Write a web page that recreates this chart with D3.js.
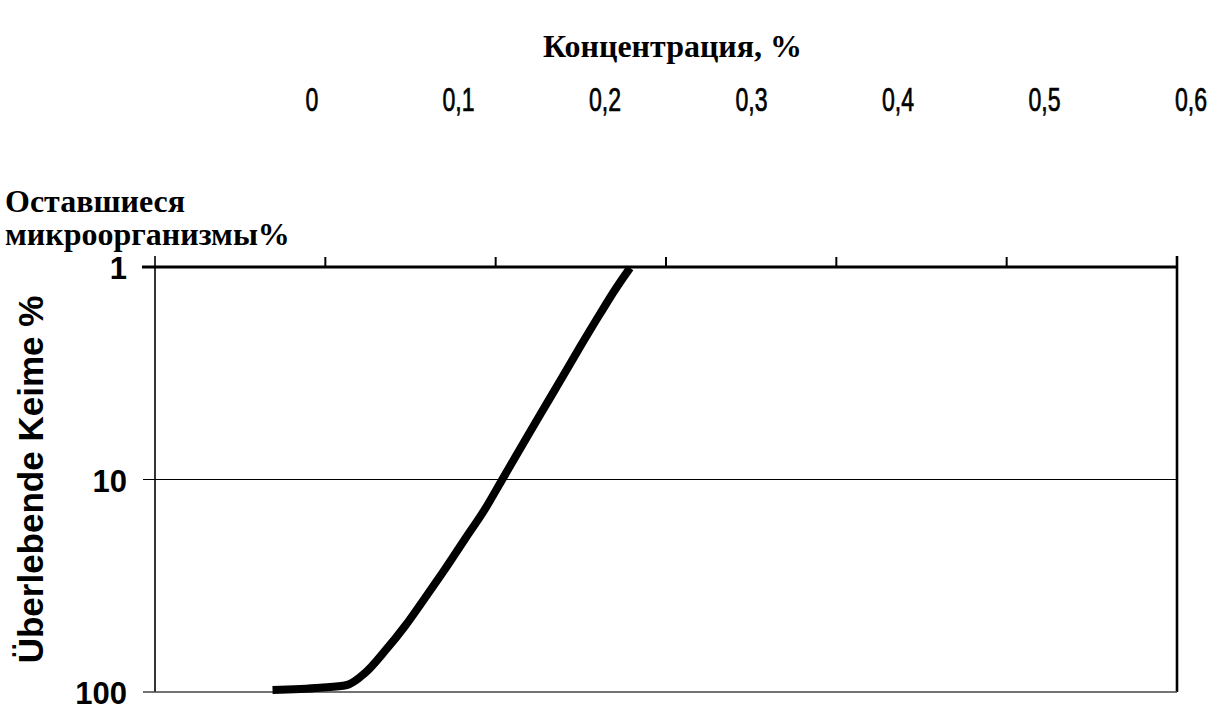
<!DOCTYPE html>
<html>
<head>
<meta charset="utf-8">
<script src="https://cdn.jsdelivr.net/npm/d3@7"></script>
<style>
	body {margin: 0; background: #fff}
	svg {display: block}
</style>
</head>
<body>
<svg width="1211" height="706"></svg>
<script>
'use strict';
// data
let aConc = [0.069, 0.097, 0.1127, 0.1233, 0.135, 0.1468, 0.1585, 0.1703, 0.182, 0.1937, 0.2037, 0.2143, 0.226, 0.2378, 0.2495, 0.2613, 0.2701, 0.2789]
let aSurv = [97.8, 95.5, 92.7, 81.4, 64.1, 48.9, 36.1, 26.4, 19.05, 13.8, 10.05, 7.19, 4.97, 3.44, 2.38, 1.66, 1.28, 1.01]
let aXTicks = [0, 0.1, 0.2, 0.3, 0.4, 0.5, 0.6]
let aXLabels = ["0", "0,1", "0,2", "0,3", "0,4", "0,5", "0,6"]
let aYTicks = [1, 10, 100]

let eSvg = d3.select("svg")

let sX = d3.scaleLinear().domain([0, 0.6]).range([155, 1177])
// translated tick labels sit on their own spacing above the chart
let sXLab = d3.scaleLinear().domain([0, 0.6]).range([312, 1191])
let sY = d3.scaleLog().domain([1, 100]).range([267, 692])

let sans = "'Liberation Sans', Arial, sans-serif"
let serif = "'Liberation Serif', 'Times New Roman', serif"

// frame
let gFrame = eSvg.append("g").attr("stroke", "#000").attr("fill", "none")
gFrame.append("line") // top axis
	.attr("x1", 142).attr("x2", sX(0.6) + 1)
	.attr("y1", sY(1)).attr("y2", sY(1))
	.attr("stroke-width", 3)
gFrame.append("line") // left axis
	.attr("x1", sX(0)).attr("x2", sX(0))
	.attr("y1", sY(1) - 11).attr("y2", sY(100))
	.attr("stroke-width", 1.6)
gFrame.append("line") // right axis
	.attr("x1", sX(0.6)).attr("x2", sX(0.6))
	.attr("y1", sY(1) - 11).attr("y2", sY(100))
	.attr("stroke-width", 2.6)
gFrame.append("line") // gridline at 10
	.attr("x1", 143).attr("x2", sX(0.6))
	.attr("y1", sY(10)).attr("y2", sY(10))
	.attr("stroke-width", 1.2)
gFrame.append("line") // bottom
	.attr("x1", 143).attr("x2", sX(0.6))
	.attr("y1", sY(100)).attr("y2", sY(100))
	.attr("stroke", "#444").attr("stroke-width", 1.5)

// top ticks
gFrame.selectAll(".xtick")
	.data(aXTicks.slice(1, -1))
	.enter().append("line")
	.attr("x1", d => sX(d)).attr("x2", d => sX(d))
	.attr("y1", sY(1) - 10).attr("y2", sY(1))
	.attr("stroke-width", 2)

// curve
eSvg.append("path")
	.datum(aConc.map((c, i) => [c, aSurv[i]]))
	.attr("fill", "none")
	.attr("stroke", "#000")
	.attr("stroke-width", 8)
	.attr("stroke-linecap", "butt")
	.attr("d", d3.line()
		.x(d => sX(d[0]))
		.y(d => sY(d[1]))
		.curve(d3.curveMonotoneX))

// y tick labels
eSvg.selectAll(".ylab")
	.data(aYTicks)
	.enter().append("text")
	.attr("x", 127)
	.attr("y", d => sY(d) + 12)
	.attr("text-anchor", "end")
	.attr("font-family", sans)
	.attr("font-size", 31)
	.attr("font-weight", "bold")
	.text(d => d)

// y title (German original)
eSvg.append("text")
	.attr("transform", "translate(43," + sY(10) + ") rotate(-90)")
	.attr("text-anchor", "middle")
	.attr("font-family", sans)
	.attr("font-size", 35)
	.attr("font-weight", "bold")
	.text("Überlebende Keime %")

// russian title over the y axis
eSvg.append("text")
	.attr("font-family", serif)
	.attr("font-weight", "bold")
	.attr("font-size", 32)
	.selectAll("tspan")
	.data(["Оставшиеся", "микроорганизмы%"])
	.enter().append("tspan")
	.attr("x", 5)
	.attr("y", (d, i) => 212 + i * 33)
	.text(d => d)

// x title and labels
eSvg.append("text")
	.attr("x", 543).attr("y", 57)
	.attr("font-family", serif)
	.attr("font-weight", "bold")
	.attr("font-size", 31)
	.attr("textLength", 259)
	.attr("lengthAdjust", "spacingAndGlyphs")
	.text("Концентрация, %")

eSvg.selectAll(".xlab")
	.data(aXTicks)
	.enter().append("text")
	.attr("transform", d => "translate(" + sXLab(d) + ",111) scale(0.7,1)")
	.attr("text-anchor", "middle")
	.attr("font-family", sans)
	.attr("font-size", 33)
	.attr("stroke", "#000")
	.attr("stroke-width", 0.7)
	.text((d, i) => aXLabels[i])
</script>
</body>
</html>
